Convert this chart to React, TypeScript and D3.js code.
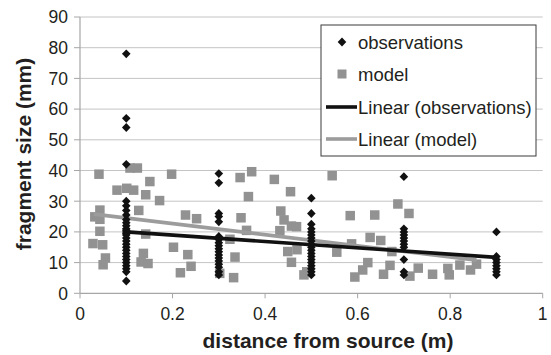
import React from "react";
import * as d3 from "d3";

// ---- data ----
const obsPositions = [0.1, 0.3, 0.5, 0.7, 0.9];
const obsValues: number[][] = [
  [78, 57, 54, 42, 30, 28.5, 27, 25.5, 24, 23, 22, 21, 20.5, 20, 19.5, 19, 18, 17, 16, 15, 14, 13, 12, 11, 10, 9, 8, 7, 4],
  [39, 36, 26, 25, 23.3, 18.5, 17.5, 16.5, 15.5, 14.5, 13.5, 12.5, 11.5, 10.5, 9.5, 8.5, 7, 6],
  [31, 26, 22.5, 21, 20, 19, 18, 17, 16, 15, 14, 13, 12, 11, 10, 9, 8, 7, 6],
  [38, 21, 20, 19, 18, 17, 16, 15, 11, 7, 6],
  [20, 12, 11, 10, 9, 8, 7, 6],
];

const modelX = [
  0.041, 0.108, 0.124, 0.151, 0.198, 0.080, 0.101, 0.116, 0.142, 0.172,
  0.127, 0.043, 0.032, 0.043, 0.043, 0.142, 0.228, 0.252, 0.028, 0.049,
  0.055, 0.050, 0.202, 0.233, 0.137, 0.132, 0.147, 0.240, 0.217, 0.302,
  0.332, 0.346, 0.371, 0.420, 0.545, 0.364, 0.455, 0.348, 0.434, 0.441,
  0.457, 0.468, 0.584, 0.637, 0.360, 0.432, 0.324, 0.449, 0.469, 0.555,
  0.587, 0.627, 0.335, 0.457, 0.490, 0.484, 0.594, 0.611, 0.622, 0.687,
  0.711, 0.650, 0.674, 0.670, 0.656, 0.713, 0.731, 0.762, 0.795, 0.798,
  0.821, 0.844, 0.857,
];
const modelY = [
  38.8, 40.8, 40.8, 36.4, 38.8, 33.6, 34.2, 33.6, 32.1, 30.2,
  27.0, 27.1, 24.9, 24.1, 20.2, 19.3, 25.5, 24.3, 16.2, 15.8,
  11.5, 9.3, 15.0, 12.6, 13.0, 10.2, 9.7, 8.8, 6.7, 6.5,
  5.1, 37.7, 39.6, 37.1, 38.3, 31.5, 33.1, 24.6, 26.8, 23.9,
  21.9, 21.7, 25.3, 25.5, 20.5, 20.4, 17.6, 13.6, 14.2, 13.4,
  16.1, 18.2, 11.8, 10.1, 7.0, 6.0, 5.3, 7.6, 10.0, 29.1,
  26.0, 17.2, 13.6, 9.1, 6.2, 5.6, 8.2, 6.2, 8.1, 6.0,
  9.2, 7.6, 9.5,
];

// trendlines (x, y pairs)
const obsTrendX = [0.1, 0.9];
const obsTrendY = [20.0, 11.7];
const modelTrendX = [0.03, 0.857];
const modelTrendY = [25.8, 10.8];

const xTicks = [0, 0.2, 0.4, 0.6, 0.8, 1];
const xTickLabels = ["0", "0.2", "0.4", "0.6", "0.8", "1"];
const yTicks = [0, 10, 20, 30, 40, 50, 60, 70, 80, 90];

const legendLabels = ["observations", "model", "Linear (observations)", "Linear (model)"];

const W = 551;
const H = 355;
const FONT = "'Liberation Sans', Arial, Helvetica, sans-serif";
const TEXT = "#231f20";
const SQ = "#929292";
const DIA = "#111111";
const GRAYLINE = "#9c9c9c";

export default function App() {
  const x = d3.scaleLinear().domain([0, 1]).range([80, 542.7]);
  const y = d3.scaleLinear().domain([0, 90]).range([293.3, 17]);

  const obsPoints: { x: number; y: number }[] = [];
  obsPositions.forEach((p, i) => obsValues[i].forEach((v) => obsPoints.push({ x: p, y: v })));
  const modelPoints = modelX.map((mx, i) => ({ x: mx, y: modelY[i] }));

  const line = d3
    .line<[number, number]>()
    .x((d) => x(d[0]))
    .y((d) => y(d[1]));
  const obsTrend = line(obsTrendX.map((v, i) => [v, obsTrendY[i]] as [number, number])) || "";
  const modelTrend = line(modelTrendX.map((v, i) => [v, modelTrendY[i]] as [number, number])) || "";

  const dHalfW = 4.3;
  const dHalfH = 4.4;
  const diamond = (cx: number, cy: number) =>
    `M${cx},${cy - dHalfH}L${cx + dHalfW},${cy}L${cx},${cy + dHalfH}L${cx - dHalfW},${cy}Z`;
  const sq = 9.5;

  const [x0, x1] = x.range();
  const y0 = y(0);

  // legend layout
  const lg = { x: 321, y: 25, w: 215, h: 131 };
  const rows = [42, 74, 107, 139];

  return (
    <div style={{ position: "fixed", left: 0, top: 0, width: W, height: H, background: "#fff" }}>
      <svg width={W} height={H} style={{ display: "block" }} fontFamily={FONT}>
        <rect x={0} y={0} width={W} height={H} fill="#fff" />
        {/* gridlines */}
        {yTicks
          .filter((t) => t > 0)
          .map((t) => (
            <line key={"g" + t} x1={x0} x2={x1} y1={y(t)} y2={y(t)} stroke="#c4c4c4" strokeWidth={1} />
          ))}
        {/* axes */}
        <line x1={x0} x2={x0} y1={y(90)} y2={y0} stroke="#a6a6a6" strokeWidth={1.2} />
        <line x1={x0} x2={x1} y1={y0} y2={y0} stroke="#a6a6a6" strokeWidth={1.2} />
        {yTicks.map((t) => (
          <line key={"yt" + t} x1={x0 - 6} x2={x0} y1={y(t)} y2={y(t)} stroke="#a6a6a6" strokeWidth={1} />
        ))}
        {xTicks.map((t) => (
          <line key={"xt" + t} x1={x(t)} x2={x(t)} y1={y0} y2={y0 + 5} stroke="#a6a6a6" strokeWidth={1} />
        ))}
        {/* tick labels */}
        {yTicks.map((t) => (
          <text key={"yl" + t} x={68} y={y(t)} dy="0.36em" textAnchor="end" fontSize={17.5} fill={TEXT}>
            {t}
          </text>
        ))}
        {xTicks.map((t, i) => (
          <text key={"xl" + t} x={x(t)} y={320} textAnchor="middle" fontSize={17.5} fill={TEXT}>
            {xTickLabels[i]}
          </text>
        ))}
        {/* model squares */}
        {modelPoints.map((p, i) => (
          <rect key={"m" + i} x={x(p.x) - sq / 2} y={y(p.y) - sq / 2} width={sq} height={sq} fill={SQ} />
        ))}
        {/* model trend */}
        <path d={modelTrend} stroke={GRAYLINE} strokeWidth={3.6} fill="none" />
        {/* observations */}
        {obsPoints.map((p, i) => (
          <path key={"o" + i} d={diamond(x(p.x), y(p.y))} fill={DIA} />
        ))}
        <path d={obsTrend} stroke={DIA} strokeWidth={3.6} fill="none" />
        {/* legend */}
        <rect x={lg.x} y={lg.y} width={lg.w} height={lg.h} fill="#fff" stroke="#3a3a3a" strokeWidth={1} />
        <path d={diamond(342, rows[0])} fill={DIA} />
        <rect x={342 - 4.5} y={rows[1] - 4.5} width={9} height={9} fill={SQ} />
        <line x1={326} x2={357} y1={rows[2]} y2={rows[2]} stroke={DIA} strokeWidth={3.6} />
        <line x1={326} x2={357} y1={rows[3]} y2={rows[3]} stroke={GRAYLINE} strokeWidth={3.6} />
        {legendLabels.map((l, i) => (
          <text key={"lg" + i} x={358} y={rows[i]} dy="0.36em" fontSize={18.5} fill={TEXT}>
            {l}
          </text>
        ))}
        {/* axis titles */}
        <text x={328} y={348} textAnchor="middle" fontSize={21} fontWeight="bold" fill={TEXT}>
          distance from source (m)
        </text>
        <text
          transform="translate(31,154) rotate(-90)"
          textAnchor="middle"
          fontSize={21}
          fontWeight="bold"
          fill={TEXT}
        >
          fragment size (mm)
        </text>
      </svg>
    </div>
  );
}
